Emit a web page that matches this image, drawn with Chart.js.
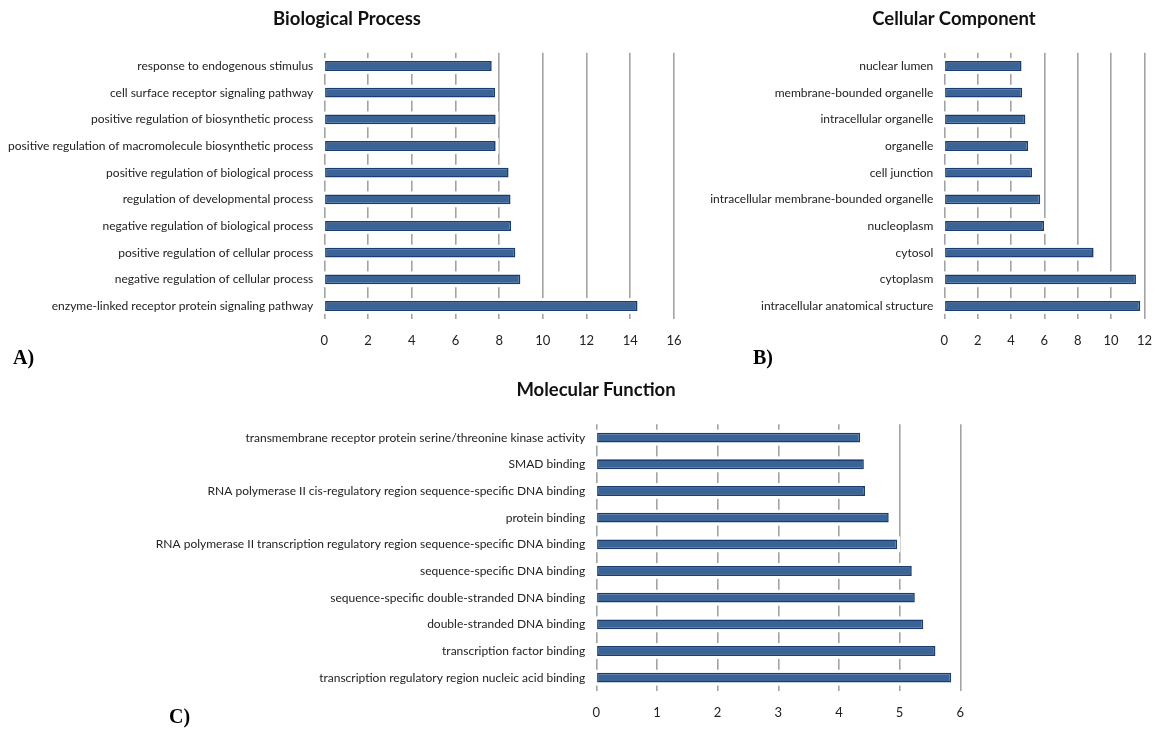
<!DOCTYPE html>
<html>
<head>
<meta charset="utf-8">
<script src="https://cdn.jsdelivr.net/npm/chart.js@4.4.1/dist/chart.umd.min.js"></script>
<style>
  html, body { margin: 0; padding: 0; background: #fff; }
  body { width: 1166px; height: 729px; position: relative; overflow: hidden; }
  .box { position: absolute; }
  .title { position: absolute; font-family: Lato, "Open Sans", sans-serif; font-weight: bold; font-size: 18.5px; color: #111; transform: translateX(-50%); white-space: nowrap; }
  .letter { position: absolute; font-family: "Liberation Serif", "Times New Roman", serif; font-weight: bold; font-size: 20px; color: #000; }
</style>
</head>
<body>
<div class="box" style="left:0;top:0;width:700px;height:360px;"><canvas id="cA"></canvas></div>
<div class="box" style="left:700px;top:0;width:466px;height:360px;"><canvas id="cB"></canvas></div>
<div class="box" style="left:0;top:360px;width:1000px;height:369px;"><canvas id="cC"></canvas></div>

<div class="title" style="left:347px;top:7px;">Biological Process</div>
<div class="title" style="left:954px;top:7px;">Cellular Component</div>
<div class="title" style="left:596px;top:378px;">Molecular Function</div>

<div class="letter" style="left:13px;top:346px;">A)</div>
<div class="letter" style="left:753px;top:346px;">B)</div>
<div class="letter" style="left:169px;top:705px;">C)</div>

<script>
// ---- Data ----
const bpLabels = [
  "response to endogenous stimulus",
  "cell surface receptor signaling pathway",
  "positive regulation of biosynthetic process",
  "positive regulation of macromolecule biosynthetic process",
  "positive regulation of biological process",
  "regulation of developmental process",
  "negative regulation of biological process",
  "positive regulation of cellular process",
  "negative regulation of cellular process",
  "enzyme-linked receptor protein signaling pathway"
];
const bpValues = [7.66, 7.81, 7.84, 7.84, 8.43, 8.52, 8.55, 8.74, 8.97, 14.33];
const bpTicks = [0, 2, 4, 6, 8, 10, 12, 14, 16];

const ccLabels = [
  "nuclear lumen",
  "membrane-bounded organelle",
  "intracellular organelle",
  "organelle",
  "cell junction",
  "intracellular membrane-bounded organelle",
  "nucleoplasm",
  "cytosol",
  "cytoplasm",
  "intracellular anatomical structure"
];
const ccValues = [4.63, 4.67, 4.86, 5.03, 5.26, 5.75, 5.98, 8.95, 11.49, 11.75];
const ccTicks = [0, 2, 4, 6, 8, 10, 12];

const mfLabels = [
  "transmembrane receptor protein serine/threonine kinase activity",
  "SMAD binding",
  "RNA polymerase II cis-regulatory region sequence-specific DNA binding",
  "protein binding",
  "RNA polymerase II transcription regulatory region sequence-specific DNA binding",
  "sequence-specific DNA binding",
  "sequence-specific double-stranded DNA binding",
  "double-stranded DNA binding",
  "transcription factor binding",
  "transcription regulatory region nucleic acid binding"
];
const mfValues = [4.35, 4.41, 4.43, 4.82, 4.96, 5.20, 5.25, 5.39, 5.59, 5.85];
const mfTicks = [0, 1, 2, 3, 4, 5, 6];

// ---- Plugin: white halo behind each bar (covers gridlines) ----
const haloPlugin = {
  id: 'halo',
  beforeDatasetsDraw(chart) {
    const ctx = chart.ctx;
    ctx.save();
    ctx.fillStyle = '#ffffff';
    chart.getDatasetMeta(0).data.forEach(bar => {
      const h = bar.height;
      const x0 = Math.min(bar.base, bar.x), x1 = Math.max(bar.base, bar.x);
      ctx.fillRect(x0 - 3, bar.y - h / 2 - 3, x1 - x0 + 6, h + 6);
    });
    ctx.restore();
  }
};

function makeChart(id, labels, values, ticks, geo) {
  return new Chart(document.getElementById(id), {
    type: 'bar',
    data: {
      labels: labels,
      datasets: [{
        data: values,
        backgroundColor: '#3a6396',
        borderColor: '#1a3c70',
        borderWidth: 1.6,
        borderSkipped: false,
        barPercentage: 0.37,
        categoryPercentage: 1.0
      }]
    },
    plugins: [haloPlugin],
    options: {
      indexAxis: 'y',
      responsive: true,
      maintainAspectRatio: false,
      animation: false,
      layout: { padding: { top: geo.top, right: geo.right, bottom: 0, left: 0 } },
      plugins: { legend: { display: false }, tooltip: { enabled: false }, title: { display: false } },
      scales: {
        x: {
          min: ticks[0],
          max: ticks[ticks.length - 1],
          afterBuildTicks(scale) { scale.ticks = ticks.map(v => ({ value: v })); },
          afterFit(scale) { scale.height = geo.xh; },
          border: { display: false },
          grid: { display: true, color: '#a3a3a3', lineWidth: 1.6, drawTicks: false },
          ticks: { padding: geo.tickPad, color: '#222', font: { family: 'Lato', size: 13 } }
        },
        y: {
          afterFit(scale) { scale.width = geo.yw; },
          border: { display: false },
          grid: { display: false, drawTicks: false },
          ticks: { padding: 11, color: '#222', font: { family: 'Lato', size: 12 } }
        }
      }
    }
  });
}

makeChart('cA', bpLabels, bpValues, bpTicks, { top: 52.7, right: 26, xh: 40.7, yw: 324.3, tickPad: 14 });
makeChart('cB', ccLabels, ccValues, ccTicks, { top: 52.7, right: 11.7, xh: 40.7, yw: 244.3, tickPad: 14 });
makeChart('cC', mfLabels, mfValues, mfTicks, { top: 64.3, right: 39.7, xh: 38, yw: 596.3, tickPad: 14 });
</script>
</body>
</html>
